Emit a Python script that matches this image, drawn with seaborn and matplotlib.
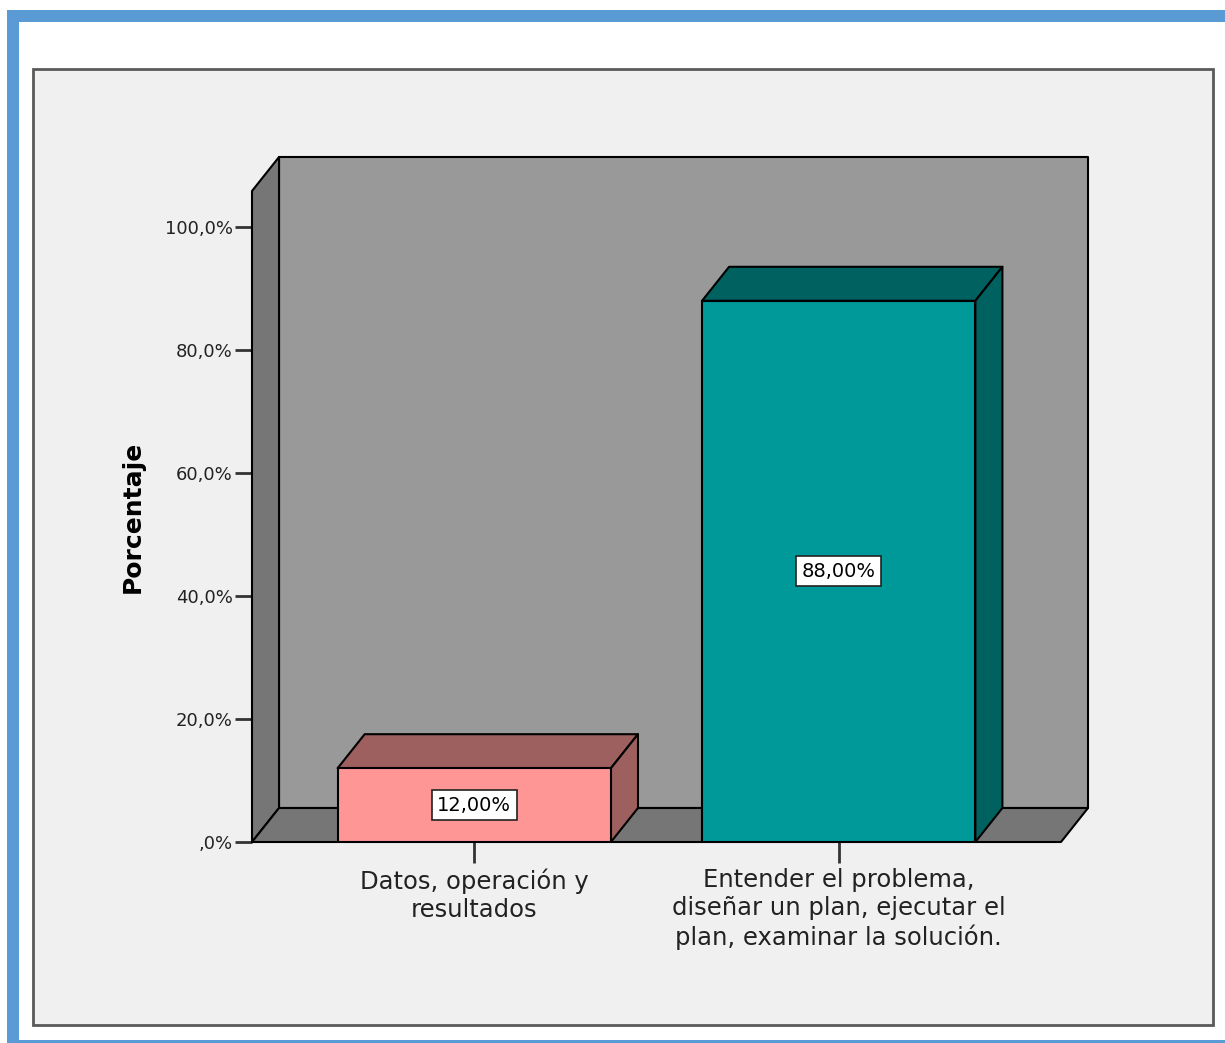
import numpy as np
import pandas as pd
import matplotlib
matplotlib.use("Agg")
import matplotlib.pyplot as plt
from matplotlib.patches import Polygon, Rectangle
import seaborn as sns

# Data
categories = ["Datos, operación y\nresultados",
              "Entender el problema,\ndiseñar un plan, ejecutar el\nplan, examinar la solución."]
percentages = [12.0, 88.0]
value_labels = ["12,00%", "88,00%"]
y_ticks = [0, 20, 40, 60, 80, 100]
y_tick_labels = [",0%", "20,0%", "40,0%", "60,0%", "80,0%", "100,0%"]

front_colors = ["#FF9696", "#009999"]
dark_colors = ["#9E5F5F", "#006161"]

W, H = 1225, 1043
sns.set_theme(style="white")
plt.rcParams["font.family"] = ["DejaVu Sans"]

fig = plt.figure(figsize=(W / 100, H / 100), dpi=100)
fig.patch.set_facecolor("white")

def px(x0, y0, x1, y1):
    # pixel box (top-left origin) -> figure fraction rectangle
    return (x0 / W, 1 - y1 / H), (x1 - x0) / W, (y1 - y0) / H

# blue outer frame and white inner area
xy, w, h = px(7, 10, W + 5, H)
fig.patches.append(Rectangle(xy, w, h, transform=fig.transFigure, facecolor="#5B9BD5", edgecolor="none", zorder=-3))
xy, w, h = px(19, 22, W + 5, 1040)
fig.patches.append(Rectangle(xy, w, h, transform=fig.transFigure, facecolor="white", edgecolor="none", zorder=-2))
# grey chart panel
xy, w, h = px(33, 69, 1213, 1025)
fig.patches.append(Rectangle(xy, w, h, transform=fig.transFigure, facecolor="#F0F0F0", edgecolor="#5A5A5A", lw=2, zorder=-1))

# axes: left = front-left corner of floor, bottom = 0%
ax_l, ax_r, ax_b, ax_t = 252, 1061, 842, 157
ax = fig.add_axes([ax_l / W, 1 - ax_b / H, (ax_r - ax_l) / W, (ax_b - ax_t) / H])
ax.patch.set_alpha(0)

df = pd.DataFrame({"Categoria": categories, "Porcentaje": percentages})
sns.barplot(data=df, x="Categoria", y="Porcentaje", hue="Categoria", palette=front_colors,
            saturation=1, width=0.75, edgecolor="black", linewidth=1.5, legend=False, ax=ax, zorder=5)

ax.set_xlim(-0.61, 1.61)
ymax = (ax_b - ax_t) / 6.15
ax.set_ylim(0, ymax)

# depth offset of the 3D effect, in data units
dx = 27 / 364 * 1.0
dy = 34 / 6.15
x0, x1 = ax.get_xlim()
top_front = ymax - dy

wall_kw = dict(edgecolor="black", lw=1.5, clip_on=False, joinstyle="round")
# back wall
ax.add_patch(Polygon([(x0 + dx, dy), (x1 + dx, dy), (x1 + dx, ymax), (x0 + dx, ymax)],
                     facecolor="#999999", zorder=1, **wall_kw))
# left wall
ax.add_patch(Polygon([(x0, 0), (x0 + dx, dy), (x0 + dx, ymax), (x0, top_front)],
                     facecolor="#767676", zorder=2, **wall_kw))
# floor
ax.add_patch(Polygon([(x0, 0), (x0 + dx, dy), (x1 + dx, dy), (x1, 0)],
                     facecolor="#767676", zorder=2, **wall_kw))

# top and side faces of each bar
for bar, dark, lab in zip(ax.patches[:len(percentages)], dark_colors, value_labels):
    bx, bw, bh = bar.get_x(), bar.get_width(), bar.get_height()
    ax.add_patch(Polygon([(bx, bh), (bx + dx, bh + dy), (bx + bw + dx, bh + dy), (bx + bw, bh)],
                         facecolor=dark, zorder=4, **wall_kw))
    ax.add_patch(Polygon([(bx + bw, 0), (bx + bw + dx, dy), (bx + bw + dx, bh + dy), (bx + bw, bh)],
                         facecolor=dark, zorder=4, **wall_kw))
    ax.text(bx + bw / 2, bh / 2, lab, ha="center", va="center", fontsize=14, color="black", zorder=6,
            bbox=dict(boxstyle="square,pad=0.28", facecolor="white", edgecolor="#222222", lw=1.2))

for s in ax.spines.values():
    s.set_visible(False)
ax.axhline(0, color="black", lw=2, zorder=3, xmax=1.0)

ax.set_yticks(y_ticks)
ax.set_yticklabels(y_tick_labels, fontsize=13, color="#222222")
ax.tick_params(axis="y", left=True, length=12, width=2, color="#333333", pad=2)
ax.tick_params(axis="x", bottom=True, length=15, width=2, color="#333333", pad=4, labelsize=17.5)
ax.set_xticks(range(len(categories)))
ax.set_xticklabels(categories, linespacing=1.2, color="#222222")
ax.set_xlabel("")
ax.set_ylabel("Porcentaje", fontsize=18, fontweight="bold", color="black", labelpad=14)
ax.yaxis.label.set_y((ax_b - 517) / (ax_b - ax_t))

fig.savefig("out.png", dpi=100)
